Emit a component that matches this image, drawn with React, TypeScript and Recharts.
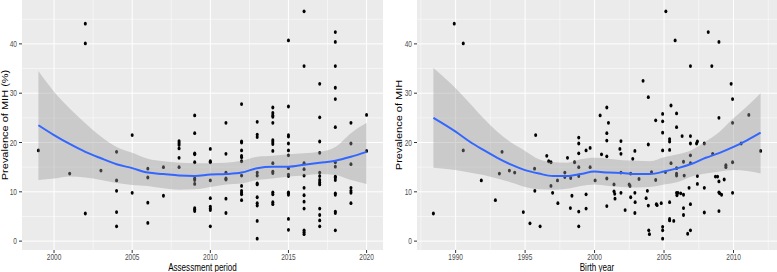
import { ComposedChart, XAxis, YAxis, CartesianGrid, Scatter, Area, Line } from 'recharts'

// --- left panel: prevalence by assessment period ---
const assessmentYears = [
  1999, 2001, 2002, 2003, 2004, 2005, 2006, 2007, 2008, 2009, 2010,
  2011, 2012, 2013, 2014, 2015, 2016, 2017, 2018, 2019, 2020,
]
const prevalenceByAssessment = [
  [18.4],
  [13.7],
  [44.1, 40.1, 5.6],
  [14.3],
  [18.1, 12.3, 10.2, 5.9, 3.0],
  [21.5, 9.8],
  [14.7, 12.9, 7.8, 3.7],
  [15.0, 9.2],
  [20.3, 19.9, 19.5, 18.8, 16.9, 15.0],
  [25.5, 21.9, 17.8, 17.6, 16.0, 12.7, 12.4, 11.6, 6.7, 6.4, 6.1],
  [18.7, 16.2, 16.0, 12.3, 8.7, 7.0, 6.6, 6.3, 3.0],
  [24.0, 17.7, 13.9, 12.7, 12.5, 8.6, 5.7],
  [27.8, 20.2, 20.0, 18.4, 17.3, 17.0, 16.2, 13.3, 11.2, 10.2, 9.8, 9.5, 8.3],
  [24.2, 21.6, 21.1, 13.9, 13.3, 11.7, 11.5, 8.9, 7.7, 7.2, 4.1, 0.5],
  [27.1, 26.0, 25.5, 25.2, 24.0, 20.5, 20.1, 19.7, 18.3, 15.8, 14.1, 13.8, 9.9, 9.5, 7.9, 7.5],
  [40.7, 27.3, 21.5, 21.2, 19.8, 18.4, 17.4, 14.8, 13.5, 13.2, 9.9, 9.7, 9.4, 4.5, 2.3],
  [46.6, 35.5, 15.8, 14.6, 13.3, 10.8, 9.3, 8.0, 6.6, 2.2, 1.8, 1.4],
  [31.9, 25.1, 20.2, 17.9, 13.9, 13.2, 12.4, 11.9, 11.5, 6.6, 5.3, 4.2, 3.0],
  [42.4, 40.4, 35.5, 31.1, 28.8, 23.1, 16.0, 15.1, 13.1, 12.9, 12.4, 9.7, 9.4, 6.0, 5.7, 2.2],
  [24.0, 19.8, 15.6, 10.8, 10.2, 9.8, 7.7],
  [25.6, 18.3],
]
// loess fit + 95% band
const assessFitYears = [
  1999, 2000, 2001, 2002, 2003, 2004, 2005, 2006, 2007, 2008, 2009,
  2010, 2011, 2012, 2013, 2014, 2015, 2016, 2017, 2018, 2019, 2020,
]
const assessFit = [23.5, 21.5, 19.7, 18.1, 16.8, 15.6, 14.8, 13.9, 13.6, 13.3, 13.2, 13.5, 13.6, 13.9, 14.8, 15.1, 15.1, 15.5, 15.9, 16.3, 17.1, 18.1]
const assessLower = [12.4, 12.7, 13.1, 12.9, 12.4, 11.8, 11.4, 11.2, 10.7, 10.4, 10.5, 11.0, 11.5, 11.7, 12.4, 12.7, 13.1, 13.3, 13.6, 13.4, 12.4, 11.6]
const assessUpper = [34.5, 30.3, 26.9, 23.9, 21.2, 19.1, 17.9, 16.7, 16.2, 15.9, 15.8, 15.8, 15.9, 16.3, 17.1, 17.3, 17.6, 17.8, 18.1, 19.1, 21.9, 24.0]

// --- right panel: prevalence by birth year ---
const birthYears = [
  1988.4, 1989.9, 1990.55, 1990.55, 1991.85, 1992.86, 1993.15, 1993.34, 1993.87, 1994.25,
  1994.87, 1995.35, 1995.68, 1995.7, 1995.76, 1996.08, 1996.56, 1996.7, 1996.86, 1996.86,
  1996.98, 1997.33, 1997.36, 1997.86, 1997.86, 1998.05, 1998.26, 1998.28, 1998.37, 1998.56,
  1998.86, 1998.86, 1998.86, 1998.86, 1998.86, 1998.86, 1998.86, 1999.39, 1999.39, 1999.39,
  1999.68, 1999.68, 2000.04, 2000.4, 2000.5, 2000.88, 2000.88, 2000.88, 2000.88, 2000.88,
  2000.88, 2001.0, 2001.4, 2001.4, 2001.45, 2001.47, 2001.82, 2001.9, 2001.9, 2001.9,
  2001.9, 2002.2, 2002.49, 2002.55, 2002.6, 2002.6, 2002.75, 2002.9, 2002.9, 2002.92,
  2002.9, 2003.2, 2003.49, 2003.71, 2003.87, 2003.87, 2003.8, 2003.87, 2003.9, 2003.95,
  2004.1, 2004.4, 2004.4, 2004.45, 2004.5, 2004.8, 2004.9, 2004.9, 2004.9, 2004.9,
  2004.9, 2004.9, 2004.9, 2005.1, 2005.13, 2005.4, 2005.4, 2005.4, 2005.5, 2005.5,
  2005.4, 2005.4, 2005.4, 2005.7, 2005.8, 2005.9, 2005.9, 2005.9, 2005.9, 2005.9,
  2005.9, 2005.93, 2006.0, 2006.2, 2006.3, 2006.4, 2006.4, 2006.4, 2006.45, 2006.4,
  2006.8, 2006.7, 2006.9, 2006.9, 2006.9, 2006.9, 2006.9, 2006.9, 2006.9, 2007.34,
  2007.4, 2007.4, 2007.4, 2007.9, 2007.9, 2007.9, 2008.18, 2008.44, 2008.5, 2008.7,
  2008.85, 2008.95, 2008.95, 2008.95, 2008.95, 2009.0, 2008.95, 2009.14, 2009.33, 2009.45,
  2009.45, 2009.83, 2009.93, 2009.93, 2009.93, 2009.93, 2010.55, 2011.1, 2011.95,
]
const birthPrevalence = [
  5.6, 44.1, 40.1, 18.4, 12.3, 8.3, 13.7, 18.1, 14.3, 13.9,
  5.9, 3.6, 14.7, 10.2, 21.5, 3.0, 17.3, 16.2, 16.0, 11.2,
  9.8, 12.3, 7.7, 13.9, 13.0, 16.9, 6.7, 12.8, 9.2, 16.0,
  21.0, 19.8, 17.8, 15.0, 13.2, 6.0, 3.0, 18.4, 9.5, 6.6,
  18.9, 15.0, 12.3, 25.5, 17.6, 27.1, 21.9, 20.4, 17.2, 12.7,
  7.1, 24.0, 11.5, 10.1, 9.6, 8.6, 18.7, 20.3, 17.7, 13.9,
  9.8, 6.3, 11.5, 11.2, 8.9, 13.7, 16.7, 18.3, 9.8, 7.9,
  5.7, 12.6, 32.5, 8.7, 29.2, 19.6, 10.2, 7.2, 2.2, 1.4,
  14.0, 24.5, 12.4, 7.5, 7.3, 7.7, 25.8, 24.3, 22.0, 18.4,
  2.9, 2.2, 0.5, 14.0, 46.6, 20.7, 20.2, 18.5, 27.5, 15.8,
  7.9, 4.5, 4.2, 4.1, 40.7, 25.9, 23.1, 14.8, 13.7, 13.3,
  9.8, 9.3, 9.8, 9.7, 21.3, 16.1, 9.4, 6.7, 13.3, 5.3,
  10.8, 1.5, 35.5, 21.3, 19.8, 17.4, 15.8, 7.5, 2.2, 19.8,
  20.2, 13.2, 11.6, 19.8, 10.8, 5.8, 42.4, 35.5, 17.7, 13.1,
  13.1, 40.4, 25.0, 12.1, 9.9, 9.7, 6.1, 9.4, 12.5, 15.4,
  15.0, 31.9, 28.8, 24.0, 16.0, 9.8, 19.8, 25.6, 18.3,
]
const birthFitYears = [
  1988.4, 1990, 1991, 1992, 1993, 1994, 1995, 1996, 1997, 1998, 1999, 2000,
  2001, 2002, 2003, 2004, 2005, 2006, 2007, 2008, 2009, 2010, 2011, 2011.95,
]
const birthFit = [25.0, 22.2, 20.2, 18.5, 16.9, 15.5, 14.4, 13.7, 13.2, 13.2, 13.6, 14.1, 13.9, 13.8, 13.6, 13.6, 14.1, 14.8, 15.7, 16.9, 17.9, 19.1, 20.5, 22.0]
const birthLower = [14.9, 14.4, 13.9, 13.4, 12.7, 11.9, 11.0, 10.5, 10.4, 10.6, 11.2, 11.5, 11.2, 11.0, 10.9, 11.0, 11.5, 12.0, 13.1, 13.7, 14.1, 14.4, 14.2, 13.7]
const birthUpper = [35.1, 31.0, 28.0, 24.9, 22.2, 20.0, 18.3, 16.6, 16.0, 15.9, 16.6, 16.9, 16.7, 16.4, 16.3, 16.2, 17.0, 17.6, 18.5, 20.2, 22.2, 24.9, 27.4, 30.0]

const Y_TICKS = [0, 10, 20, 30, 40]
const Y_MINOR = [5, 15, 25, 35, 45]
const Y_DOMAIN = [-1.8, 48.9]

// the source figure is squeezed horizontally, so text is too
const SX = 0.77
const FONT = '"Liberation Sans", Arial, Helvetica, sans-serif'
const TICK_GREY = '#4D4D4D'

const XTick = (props: any) => {
  const { x, y, payload } = props
  return (
    <text
      transform={`translate(${x},${y}) scale(${SX},1)`}
      textAnchor="middle"
      dy="0.72em"
      fontSize={8.5}
      fontFamily={FONT}
      fill={TICK_GREY}
    >
      {payload.value}
    </text>
  )
}

const YTick = (props: any) => {
  const { x, y, payload } = props
  return (
    <text
      transform={`translate(${x},${y}) scale(${SX},1)`}
      textAnchor="end"
      dy="0.36em"
      fontSize={8.5}
      fontFamily={FONT}
      fill={TICK_GREY}
    >
      {payload.value}
    </text>
  )
}

const Dot = (props: any) => <ellipse cx={props.cx} cy={props.cy} rx={1.5} ry={1.9} fill="#000" />

interface PanelProps {
  width: number
  yAxisWidth: number
  yTitleDx: number
  domain: number[]
  ticks: number[]
  minor: number[]
  curve: { x: number; fit: number; band: number[] }[]
  points: { x: number; y: number }[]
  xTitle: string
  yTitle: string
}

function Panel({ width, yAxisWidth, yTitleDx, domain, ticks, minor, curve, points, xTitle, yTitle }: PanelProps) {
  return (
    <ComposedChart width={width} height={272} data={curve} margin={{ top: 0, right: 0, bottom: 0, left: 0 }}>
      <CartesianGrid
        fill="#EBEBEB"
        fillOpacity={1}
        stroke="#FFFFFF"
        strokeWidth={0.5}
        horizontalValues={Y_MINOR}
        verticalValues={minor}
      />
      <CartesianGrid stroke="#FFFFFF" strokeWidth={1} horizontalValues={Y_TICKS} verticalValues={ticks} />
      <XAxis
        type="number"
        dataKey="x"
        domain={domain}
        ticks={ticks}
        interval={0}
        allowDataOverflow
        height={22}
        axisLine={false}
        tickLine={{ stroke: '#333333' }}
        tickSize={3}
        tickMargin={0.5}
        tick={XTick}
        label={{
          content: ({ viewBox }: any) => (
            <text
              transform={`translate(${viewBox.x + viewBox.width / 2},${viewBox.y + 21}) scale(${SX},1)`}
              textAnchor="middle"
              fontSize={10.5}
              fontFamily={FONT}
              fill="#000"
            >
              {xTitle}
            </text>
          ),
        }}
      />
      <YAxis
        type="number"
        domain={Y_DOMAIN}
        ticks={Y_TICKS}
        interval={0}
        allowDataOverflow
        width={yAxisWidth}
        axisLine={false}
        tickLine={{ stroke: '#333333' }}
        tickSize={3}
        tickMargin={2}
        tick={YTick}
        label={{
          content: ({ viewBox }: any) => (
            <text
              transform={`translate(${viewBox.x + yTitleDx},${viewBox.y + viewBox.height / 2}) scale(${SX},1) rotate(-90)`}
              textAnchor="middle"
              dy="0.35em"
              fontSize={11}
              fontFamily={FONT}
              fill="#000"
            >
              {yTitle}
            </text>
          ),
        }}
      />
      <Scatter data={points} dataKey="y" shape={Dot} isAnimationActive={false} zIndex={50} />
      <Area
        dataKey="band"
        type="monotone"
        stroke="none"
        fill="#999999"
        fillOpacity={0.4}
        activeDot={false}
        isAnimationActive={false}
        zIndex={700}
      />
      <Line
        dataKey="fit"
        type="monotone"
        stroke="#3366FF"
        strokeWidth={2}
        dot={false}
        activeDot={false}
        isAnimationActive={false}
        zIndex={710}
      />
    </ComposedChart>
  )
}

const assessPoints = assessmentYears.flatMap((yr, i) => prevalenceByAssessment[i].map(v => ({ x: yr, y: v })))
const assessCurve = assessFitYears.map((yr, i) => ({ x: yr, fit: assessFit[i], band: [assessLower[i], assessUpper[i]] }))
const birthPoints = birthYears.map((yr, i) => ({ x: yr, y: birthPrevalence[i] }))
const birthCurve = birthFitYears.map((yr, i) => ({ x: yr, fit: birthFit[i], band: [birthLower[i], birthUpper[i]] }))

export default function App() {
  return (
    <div style={{ position: 'absolute', left: 0, top: 0, width: 777, height: 272, background: '#fff', overflow: 'hidden' }}>
      <div style={{ position: 'absolute', left: 0, top: 0 }}>
        <Panel
          width={383}
          yAxisWidth={22}
          yTitleDx={5}
          domain={[1997.95, 2021.05]}
          ticks={[2000, 2005, 2010, 2015, 2020]}
          minor={[2002.5, 2007.5, 2012.5, 2017.5]}
          curve={assessCurve}
          points={assessPoints}
          xTitle="Assessment period"
          yTitle="Prevalence of MIH (%)"
        />
      </div>
      <div style={{ position: 'absolute', left: 383, top: 0 }}>
        <Panel
          width={394}
          yAxisWidth={34}
          yTitleDx={16}
          domain={[1987.22, 2013.13]}
          ticks={[1990, 1995, 2000, 2005, 2010]}
          minor={[1987.5, 1992.5, 1997.5, 2002.5, 2007.5, 2012.5]}
          curve={birthCurve}
          points={birthPoints}
          xTitle="Birth year"
          yTitle="Prevalence of MIH"
        />
      </div>
    </div>
  )
}
